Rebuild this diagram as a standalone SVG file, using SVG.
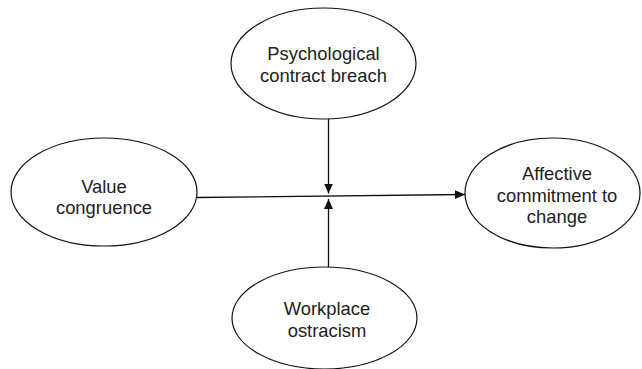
<svg xmlns="http://www.w3.org/2000/svg" width="642" height="369" viewBox="0 0 642 369">
<style>
.node ellipse{fill:#fff;stroke:#111;stroke-width:1.2}
.node text{font-family:"Liberation Sans",Arial,sans-serif;font-size:18.4px;fill:#222;text-anchor:middle}
.conn line{stroke:#111;stroke-width:1.3}
</style>
<defs>
<marker id="ah" viewBox="0 0 10 10" refX="10" refY="5" markerWidth="10" markerHeight="10" markerUnits="userSpaceOnUse" orient="auto">
<path d="M0,0.5 L10,5 L0,9.5 Z" fill="#111"/>
</marker>
</defs>
<g id="pcb" class="node">
<ellipse cx="323.5" cy="63.5" rx="92.5" ry="55.5"/>
<text x="323.5" y="60">Psychological</text>
<text x="323.5" y="82">contract breach</text>
</g>
<g id="vc" class="node">
<ellipse cx="104" cy="192" rx="93" ry="54"/>
<text x="104" y="193">Value</text>
<text x="104" y="214">congruence</text>
</g>
<g id="acc" class="node">
<ellipse cx="552.5" cy="193" rx="87.5" ry="55"/>
<text x="557" y="180">Affective</text>
<text x="557" y="202">commitment to</text>
<text x="557" y="223">change</text>
</g>
<g id="wo" class="node">
<ellipse cx="324.5" cy="318" rx="92.5" ry="51"/>
<text x="327" y="315">Workplace</text>
<text x="327" y="337">ostracism</text>
</g>
<g id="connectors" class="conn">
<line x1="197" y1="197.5" x2="465" y2="194.5" marker-end="url(#ah)"/>
<line x1="328.5" y1="119" x2="328.5" y2="193.5" marker-end="url(#ah)"/>
<line x1="328.5" y1="267" x2="328.5" y2="199" marker-end="url(#ah)"/>
</g>
</svg>
